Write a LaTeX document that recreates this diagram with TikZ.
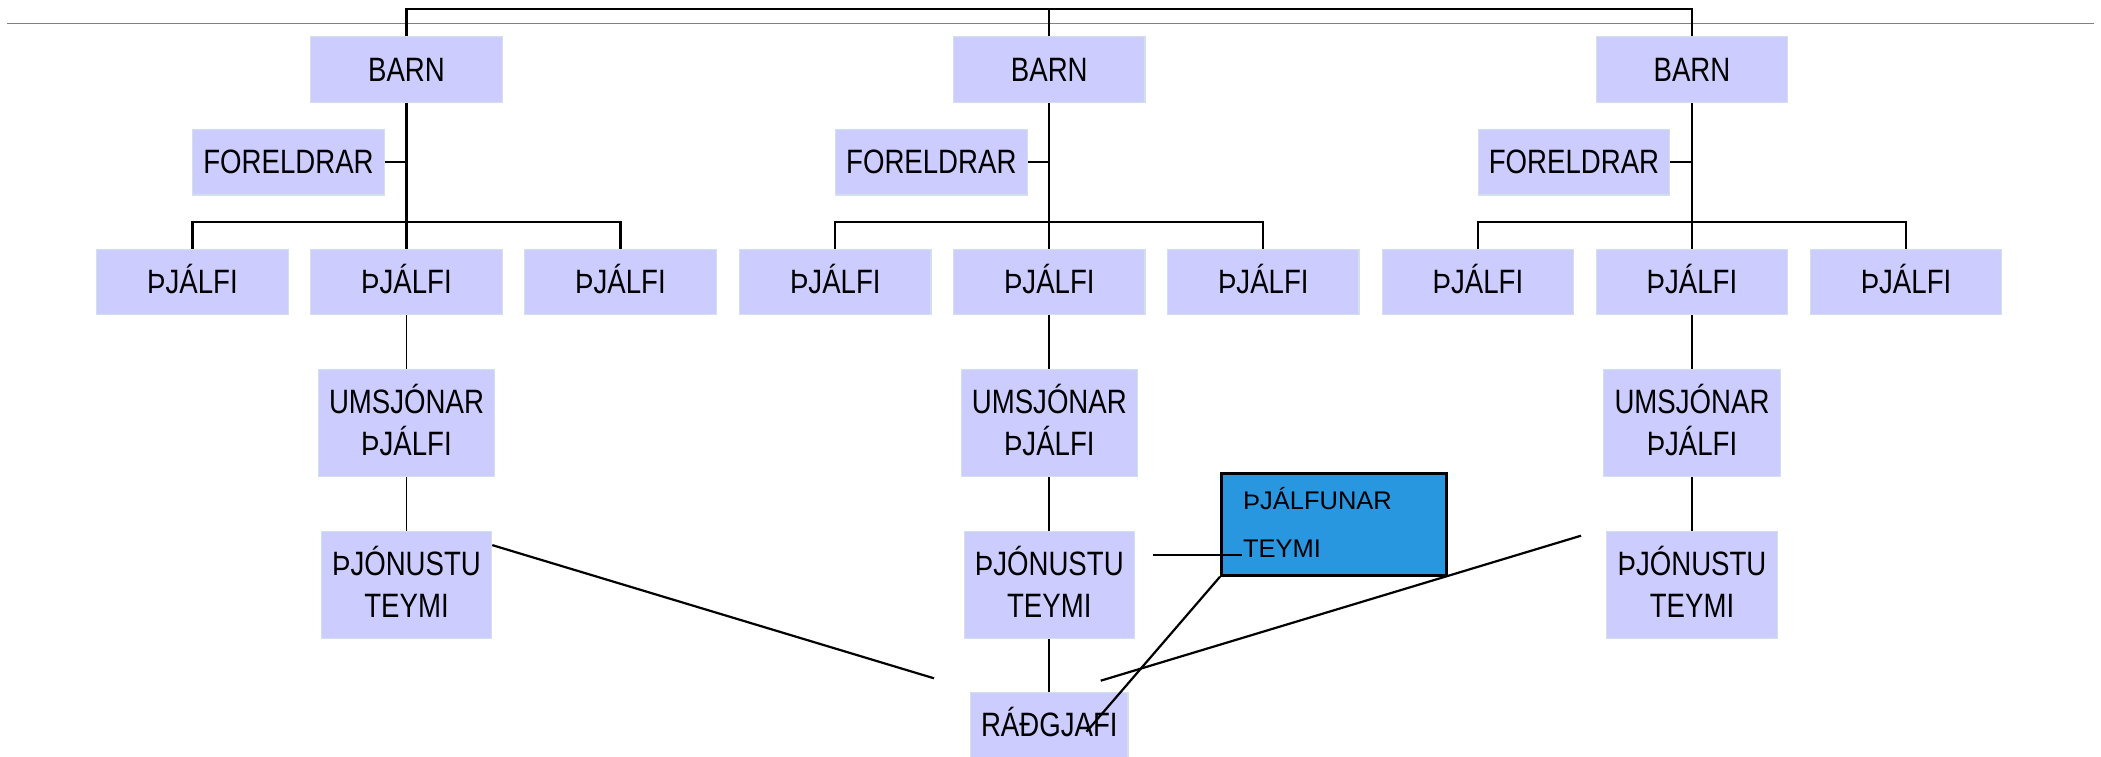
\documentclass[tikz,border=0pt]{standalone}
\usepackage{fontspec}
\setmainfont{Liberation Sans}[FakeStretch=0.817]
\newfontfamily\bluefnt{Liberation Sans}
\usetikzlibrary{calc}
\newcommand\capln[1]{\raisebox{0pt}[23.3pt][0pt]{#1}}
\newcommand\capsm[1]{\raisebox{0pt}[18pt][0pt]{#1}}
\definecolor{boxfill}{RGB}{204,204,255}
\definecolor{boxedge}{RGB}{210,224,234}
\definecolor{bluefill}{RGB}{41,150,224}
\definecolor{rulegray}{RGB}{128,128,128}
\begin{document}
\begin{tikzpicture}[x=1pt,y=-1pt,
  orgbox/.style={draw=boxedge, line width=1.2pt, fill=boxfill, inner sep=0pt,
    font=\fontsize{33.8}{42.3}\selectfont, align=center},
  onebox/.style={orgbox, minimum width=191.5pt, minimum height=65.5pt},
  conn/.style={line width=2.2pt, line join=miter},
  lowconn/.style={line width=1.7pt},
  diag/.style={line width=2.2pt},
]
\useasboundingbox (0,0) rectangle (2101,757);
\draw[rulegray, line width=1.5pt] (7,23.3) -- (2094,23.3);
\coordinate (ytop) at (0,9.3);
\coordinate (ybus) at (0,222);

\foreach \i/\c in {1/406.5,2/1049.3,3/1692}{
  \node[onebox] (b\i) at (\c,69.5) {\capln{BARN}};
  \node[onebox, minimum width=191.6pt, minimum height=65.7pt] (f\i) at (\c-118,162.2) {\capln{FORELDRAR}};
  \node[onebox] (pl\i) at (\c-214,282) {\capln{ÞJÁLFI}};
  \node[onebox] (pm\i) at (\c,282) {\capln{ÞJÁLFI}};
  \node[onebox] (pr\i) at (\c+214,282) {\capln{ÞJÁLFI}};
  \node[orgbox, minimum width=176.3pt, minimum height=107.4pt] (u\i) at (\c,423) {\capln{UMSJÓNAR}\\\capln{ÞJÁLFI}};
  \node[orgbox, minimum width=170.3pt, minimum height=106.6pt] (t\i) at (\c,585) {\capln{ÞJÓNUSTU}\\\capln{TEYMI}};
}
\node[orgbox, minimum width=157.3pt, minimum height=65pt] (rad) at (1049.3,725.1) {\capln{RÁÐGJAFI}};
\node[draw=black, line width=2.7pt, fill=bluefill, anchor=north west, inner xsep=21.7pt,
  inner ysep=0pt, text width=181.6pt, minimum height=102pt, align=left,
  font=\bluefnt\fontsize{25.5}{48}\selectfont] (tf) at (1220,472) {\capsm{ÞJÁLFUNAR}\\\capsm{TEYMI}};

% top connectors
\draw[conn] (b1.north) -- (b1.north |- ytop) -- (b3.north |- ytop) -- (b3.north);
\draw[conn] (b2.north |- ytop) -- (b2.north);
\foreach \i in {1,2,3}{
  \draw[conn] (b\i.south) -- (pm\i.north);
  \draw[conn] (f\i.east) -- (f\i.east -| b\i.south);
  \draw[conn] (pl\i.north) -- (pl\i.north |- ybus) -- (pr\i.north |- ybus) -- (pr\i.north);
  \draw[lowconn] (pm\i.south) -- (u\i.north);
  \draw[lowconn] (u\i.south) -- (t\i.north);
}
\draw[lowconn] (t2.south) -- (rad.north);

% free-ended connectors
\coordinate (dlA) at ($(t1.north east)!0.13!(t1.south east)$);
\coordinate (dlB) at (934,678.3);
\coordinate (drA) at (1100.7,680.7);
\coordinate (drB) at (1581,535.7);
\coordinate (dbB) at (1086.5,731.7);
\coordinate (hA) at (1153.3,554.7);
\coordinate (hB) at (1241.7,554.7);
\draw[diag] (dlA) -- (dlB);
\draw[diag] (drA) -- (drB);
\draw[diag] (tf.south west) -- (dbB);
\draw[diag] (hA) -- (hB);
\end{tikzpicture}
\end{document}
